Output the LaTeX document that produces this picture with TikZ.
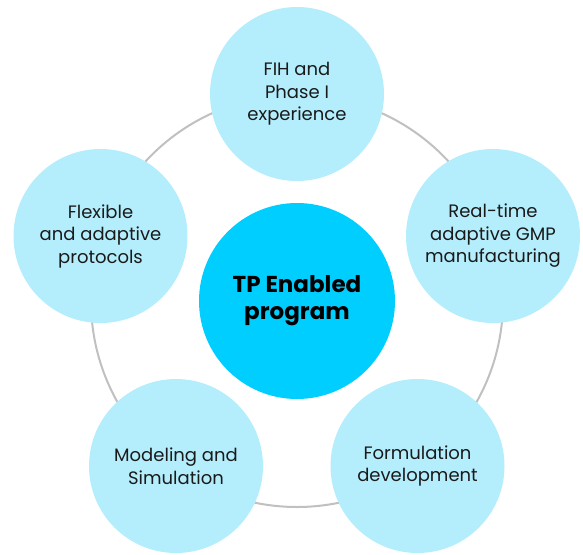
\documentclass[tikz,border=0pt]{standalone}
\usepackage{fontspec}
\setmainfont{Poppins}
\definecolor{hubblue}{RGB}{0,206,255}
\definecolor{petalblue}{RGB}{180,238,252}
\definecolor{ringgray}{RGB}{192,192,192}
\definecolor{inkdark}{RGB}{26,26,26}
\begin{document}
\begin{tikzpicture}[
    x=1pt, y=-1pt,
    hub/.style={circle, fill=hubblue, minimum size=196pt, inner sep=0pt, align=center,
      text=black, font=\fontsize{23}{27}\selectfont\bfseries},
    petal/.style={circle, fill=petalblue, minimum size=174pt, inner sep=0pt, align=center,
      text=inkdark, font=\fontsize{18}{22.5}\selectfont},
    ring/.style={draw=ringgray, line width=2pt}
  ]

    \useasboundingbox (0, 0) rectangle (583, 554);

    % Central program
    \node[hub] (tp) at (297, 301) {TP Enabled\\program};

    % Ring through the five petals
    \draw[ring] (tp.center) circle (206);

    % Petals, clockwise from the top
    \node[petal] (fih)  at (297, 94)    {FIH and\\Phase I\\experience};
    \node[petal] (gmp)  at (493, 236)   {Real-time\\adaptive GMP\\manufacturing};
    \node[petal] (form) at (417.5, 466) {Formulation\\development};
    \node[petal] (model) at (176, 466)  {Modeling and\\Simulation};
    \node[petal] (flex) at (100.5, 236) {Flexible\\and adaptive\\protocols};

  \end{tikzpicture}
\end{document}
